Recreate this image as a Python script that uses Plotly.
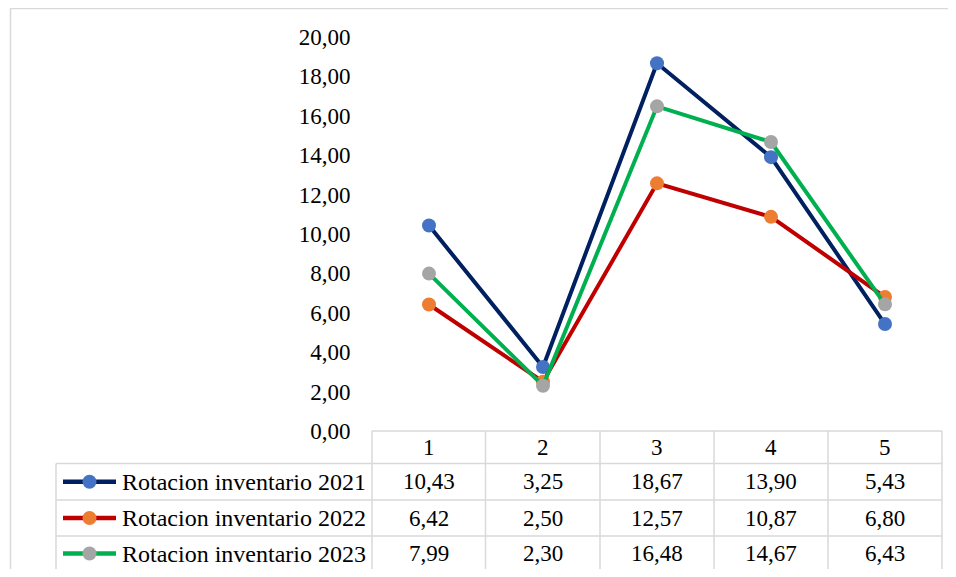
import plotly.graph_objects as go

categories = [1, 2, 3, 4, 5]
series_names = ["Rotacion inventario 2021", "Rotacion inventario 2022", "Rotacion inventario 2023"]
values_2021 = [10.43, 3.25, 18.67, 13.90, 5.43]
values_2022 = [6.42, 2.50, 12.57, 10.87, 6.80]
values_2023 = [7.99, 2.30, 16.48, 14.67, 6.43]
y_ticks = [0, 2, 4, 6, 8, 10, 12, 14, 16, 18, 20]

series = [values_2021, values_2022, values_2023]
line_colors = ["#002060", "#C00000", "#00B050"]
marker_colors = ["#4472C4", "#ED7D31", "#A5A5A5"]

OFF = 8  # page body margin
W, H = 956 - 2 * OFF, 577 - 2 * OFF
L, R, T, B = 372 - OFF, 942 - OFF, 37 - OFF, 431 - OFF  # plot area in figure pixels
FONT = "'Liberation Serif', 'Times New Roman', Times, serif"
FS = 23
FS_NAME = 24
GRID = "#D9D9D9"


def fx(p):
    return (p - OFF - L) / (R - L)


def fy(p):
    return (B - (p - OFF)) / (B - T)


def fmt(v):
    return f"{v:.2f}".replace(".", ",")


fig = go.Figure()
for name, vals, lc, mc in zip(series_names, series, line_colors, marker_colors):
    fig.add_trace(go.Scatter(
        x=categories, y=vals, name=name, mode="lines+markers",
        line=dict(color=lc, width=4),
        marker=dict(color=mc, size=14),
        showlegend=False,
    ))

shapes = []
annotations = []

shapes.append(dict(type="rect", xref="paper", yref="paper",
                   x0=fx(10.5), x1=fx(990), y0=fy(8.5), y1=fy(600),
                   line=dict(color=GRID, width=1.5), fillcolor="rgba(0,0,0,0)", layer="below"))

col_edges = [372, 485.5, 600, 714, 828, 942]
row_edges = [431, 463.5, 500, 536, 571]
legend_left = 56

shapes.append(dict(type="line", xref="paper", yref="paper", x0=fx(col_edges[0]), x1=fx(col_edges[-1]),
                   y0=fy(row_edges[0]), y1=fy(row_edges[0]), line=dict(color=GRID, width=1.5)))
for r in row_edges[1:]:
    shapes.append(dict(type="line", xref="paper", yref="paper", x0=fx(legend_left), x1=fx(col_edges[-1]),
                       y0=fy(r), y1=fy(r), line=dict(color=GRID, width=1.5)))
for c in col_edges:
    shapes.append(dict(type="line", xref="paper", yref="paper", x0=fx(c), x1=fx(c),
                       y0=fy(row_edges[0]), y1=fy(row_edges[-1]), line=dict(color=GRID, width=1.5)))
shapes.append(dict(type="line", xref="paper", yref="paper", x0=fx(legend_left), x1=fx(legend_left),
                   y0=fy(row_edges[1]), y1=fy(row_edges[-1]), line=dict(color=GRID, width=1.5)))

hdr_y = fy((row_edges[0] + row_edges[1]) / 2)
for c in categories:
    annotations.append(dict(x=c, y=hdr_y, xref="x", yref="paper", text=str(c), showarrow=False,
                            font=dict(family=FONT, size=FS, color="black"), xanchor="center", yanchor="middle"))

for i, (name, vals, lc, mc) in enumerate(zip(series_names, series, line_colors, marker_colors)):
    cy = (row_edges[i + 1] + row_edges[i + 2]) / 2
    yy = fy(cy)
    shapes.append(dict(type="line", xref="paper", yref="paper", x0=fx(63), x1=fx(116),
                       y0=yy, y1=yy, line=dict(color=lc, width=4.5)))
    shapes.append(dict(type="circle", xref="paper", yref="paper", x0=fx(89.5 - 7), x1=fx(89.5 + 7),
                       y0=fy(cy + 7), y1=fy(cy - 7), line=dict(color=mc, width=0), fillcolor=mc))
    annotations.append(dict(x=fx(120), y=yy, xref="paper", yref="paper", text=name, showarrow=False,
                            font=dict(family=FONT, size=FS_NAME, color="black"), xanchor="left", yanchor="middle"))
    for c, v in zip(categories, vals):
        annotations.append(dict(x=c, y=yy, xref="x", yref="paper", text=fmt(v), showarrow=False,
                                font=dict(family=FONT, size=FS, color="black"), xanchor="center", yanchor="middle"))

fig.update_layout(
    width=W, height=H,
    margin=dict(l=L, r=W - R, t=T, b=H - B),
    paper_bgcolor="white", plot_bgcolor="white",
    shapes=shapes, annotations=annotations,
    xaxis=dict(range=[0.5, 5.5], showgrid=False, zeroline=False, showticklabels=False, showline=False,
               fixedrange=True),
    yaxis=dict(range=[0, 20], tickvals=y_ticks, ticktext=[fmt(v) for v in y_ticks], showgrid=False,
               zeroline=False, showline=False, ticks="outside", ticklen=16, tickcolor="rgba(0,0,0,0)",
               tickfont=dict(family=FONT, size=FS, color="black"), fixedrange=True),
    font=dict(family=FONT, size=FS, color="black"),
)

fig.write_html("out.html")
